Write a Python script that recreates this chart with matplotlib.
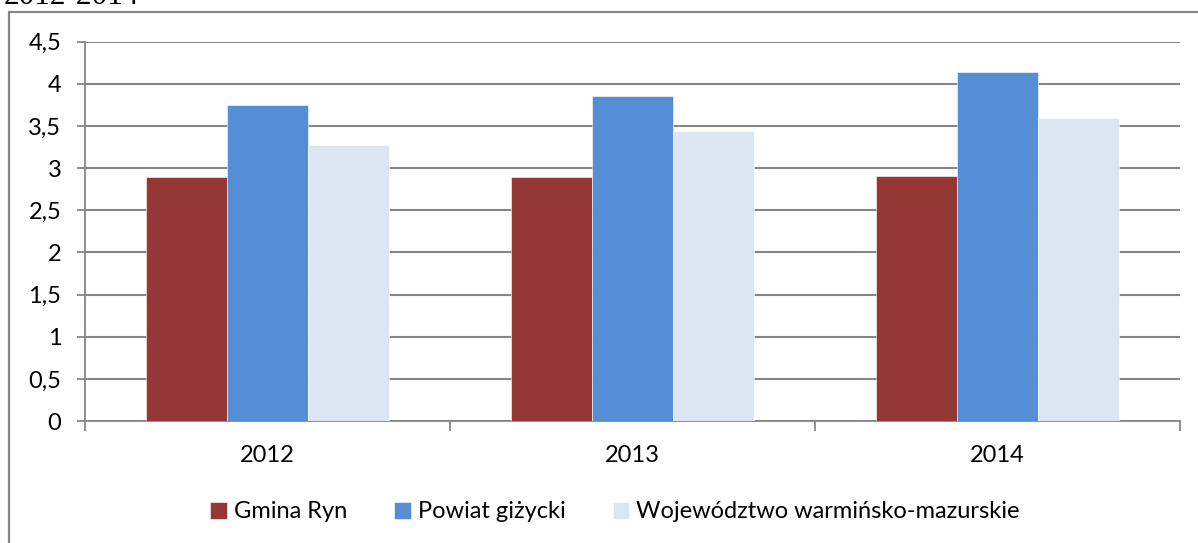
import matplotlib
matplotlib.use("Agg")
import matplotlib.pyplot as plt
from matplotlib.patches import Rectangle
import numpy as np

categories = ["2012", "2013", "2014"]
series_names = ["Gmina Ryn", "Powiat giżycki", "Województwo warmińsko-mazurskie"]
gmina = [2.89, 2.90, 2.91]
powiat = [3.75, 3.86, 4.14]
wojewodztwo = [3.28, 3.44, 3.59]
colors = ["#953735", "#558ED5", "#DCE6F2"]
yticks = [0, 0.5, 1, 1.5, 2, 2.5, 3, 3.5, 4, 4.5]
ytick_labels = ["0", "0,5", "1", "1,5", "2", "2,5", "3", "3,5", "4", "4,5"]

plt.rcParams['font.family'] = ['Lato', 'DejaVu Sans']

W, H = 1198, 543
fig = plt.figure(figsize=(W / 100, H / 100), dpi=100)
ax = fig.add_axes([85 / W, 1 - 421 / H, (1180 - 85) / W, (421 - 41.7) / H])

x = np.arange(len(categories))
bw = 0.222
for i, (vals, name, c) in enumerate(zip([gmina, powiat, wojewodztwo], series_names, colors)):
    ax.bar(x + (i - 1) * bw, vals, width=bw, color=c, label=name, zorder=3,
           edgecolor='white', linewidth=0.4)

ax.set_xlim(-0.5, 2.5)
ax.set_ylim(0, 4.5)
ax.set_yticks(yticks)
ax.set_yticklabels(ytick_labels, fontsize=17)
ax.yaxis.grid(True, color="#868686", linewidth=1.5, zorder=0)
ax.set_axisbelow(True)

ax.set_xticks(x)
ax.set_xticklabels(categories, fontsize=17)
ax.tick_params(axis='x', length=0, pad=17)
ax.set_xticks([-0.5, 0.5, 1.5, 2.5], minor=True)
ax.tick_params(axis='x', which='minor', length=7, color="#868686", width=1.3)
ax.tick_params(axis='y', length=6, color="#868686", width=1.3, pad=11)

for s in ['top', 'right']:
    ax.spines[s].set_visible(False)
ax.spines['left'].set_color("#868686")
ax.spines['left'].set_linewidth(1.3)
ax.spines['bottom'].set_color("#868686")
ax.spines['bottom'].set_linewidth(1.3)

leg = fig.legend(loc='center', bbox_to_anchor=(615 / W, 1 - 512 / H), ncol=3, frameon=False,
                 fontsize=17, handlelength=0.7, handleheight=0.7, handletextpad=0.3,
                 columnspacing=2.0)

# chart border (left and top visible)
fig.patches.append(Rectangle((9 / W, -0.05), 1.2, 1.05 - 12 / H,
                             transform=fig.transFigure, fill=False,
                             edgecolor="#868686", linewidth=1.6))

# clipped title text at the top
fig.text(4 / W, 1 - 4.5 / H, "2012-2014", family=['Liberation Serif'], fontsize=22.5,
         va='baseline', ha='left')

fig.savefig("out.png", dpi=100)
